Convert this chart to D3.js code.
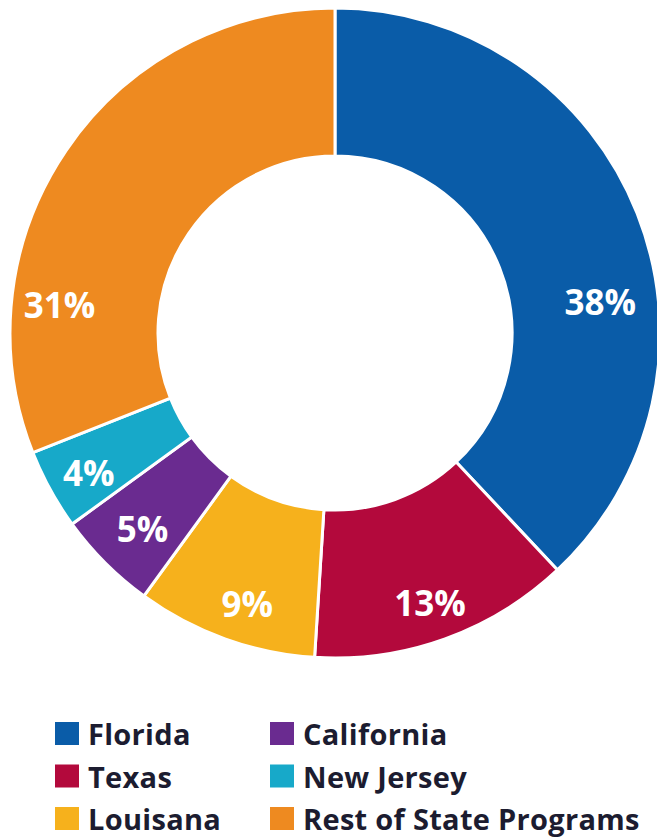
<!DOCTYPE html>
<html>
<head>
<meta charset="utf-8">
<script src="https://cdn.jsdelivr.net/npm/d3@7"></script>
<style>
  body { margin: 0; background: #fff; }
  svg { display: block; font-family: "Open Sans", sans-serif; }
</style>
</head>
<body>
<svg id="chart" width="657" height="837"></svg>
<script>
// chart data
const states = ['Florida', 'Texas', 'Louisana', 'California', 'New Jersey', 'Rest of State Programs'];
const shares = [38, 13, 9, 5, 4, 31];
const colors = ['#0a5ca8', '#b3093c', '#f6b11c', '#6a2b90', '#17a9c9', '#ee8a20'];
// legend is laid out in two columns, this is the order read down each column
const legendOrder = ['Florida', 'Texas', 'Louisana', 'California', 'New Jersey', 'Rest of State Programs'];

// label angles (degrees from top) where the original puts them by hand
const labelAngle = [83.3, 160.6, 198, 224.6, 240.5, 276];
const labelRadius = [267, 286, 284, 274, 283, 277];

const svg = d3.select('#chart');
const cx = 335, cy = 333;
const outerR = 325, innerR = 177;

const color = d3.scaleOrdinal().domain(states).range(colors);

const pie = d3.pie().sort(null).value(function(d) { return d.value; });
const arc = d3.arc().innerRadius(innerR).outerRadius(outerR);

const data = states.map(function(s, i) { return { name: s, value: shares[i], idx: i }; });

const g = svg.append('g').attr('transform', 'translate(' + cx + ',' + cy + ')');

g.selectAll('path.slice')
  .data(pie(data))
  .join('path')
  .attr('class', 'slice')
  .attr('d', arc)
  .attr('fill', function(d) { return color(d.data.name); })
  .attr('stroke', '#fff')
  .attr('stroke-width', 3);

// percent labels
g.selectAll('text.pct')
  .data(pie(data))
  .join('text')
  .attr('class', 'pct')
  .attr('x', function(d) { return labelRadius[d.data.idx] * Math.sin(labelAngle[d.data.idx] * Math.PI / 180); })
  .attr('y', function(d) { return -labelRadius[d.data.idx] * Math.cos(labelAngle[d.data.idx] * Math.PI / 180); })
  .attr('text-anchor', 'middle')
  .attr('dominant-baseline', 'central')
  .attr('fill', '#fff')
  .attr('font-weight', 700)
  .attr('font-size', 35)
  .text(function(d) { return d.data.value + '%'; });

// legend
const legend = svg.append('g').attr('transform', 'translate(55,722)');
const colX = [0, 215];
const rowH = 42.5;

const items = legend.selectAll('g.item')
  .data(legendOrder)
  .join('g')
  .attr('class', 'item')
  .attr('transform', function(d, i) {
    return 'translate(' + colX[Math.floor(i / 3)] + ',' + (i % 3) * rowH + ')';
  });

items.append('rect')
  .attr('width', 24)
  .attr('height', 23)
  .attr('fill', function(d) { return color(d); });

items.append('text')
  .attr('x', 33)
  .attr('y', 23)
  .attr('fill', '#1c1c30')
  .attr('font-weight', 700)
  .attr('font-size', 29)
  .attr('letter-spacing', 0.3)
  .text(function(d) { return d; });
</script>
</body>
</html>
